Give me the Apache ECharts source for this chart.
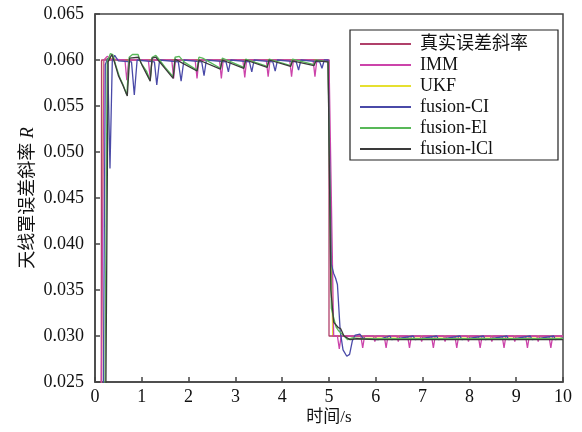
<!DOCTYPE html>
<html>
<head>
<meta charset="utf-8">
<script src="https://cdn.jsdelivr.net/npm/echarts@6/dist/echarts.min.js"></script>
<style>
  html, body { margin: 0; padding: 0; background: #fff; }
  #chart { width: 582px; height: 432px; }
</style>
</head>
<body>
<div id="chart"></div>
<script>
// Axis ticks
const xTicks = [0, 1, 2, 3, 4, 5, 6, 7, 8, 9, 10];
const yTicks = [0.025, 0.030, 0.035, 0.040, 0.045, 0.050, 0.055, 0.060, 0.065];

// Series names
const seriesNames = ['真实误差斜率', 'IMM', 'UKF', 'fusion-CI', 'fusion-El', 'fusion-lCl'];

// [time (s), slope R]
const trueSlope = [[0, 0], [0.13, 0], [0.14, 0.0600], [5.00, 0.0600], [5.00, 0.0300], [10, 0.0300]];

const immSlope = [
  [0, 0], [0.10, 0], [0.19, 0.0600], [0.26, 0.0604], [0.34, 0.0601],
  [0.64, 0.0600], [0.68, 0.0578], [0.72, 0.0600],
  [1.14, 0.0600], [1.18, 0.0580], [1.22, 0.0600],
  [1.64, 0.0600], [1.68, 0.0580], [1.72, 0.0600],
  [2.14, 0.0600], [2.18, 0.0580], [2.22, 0.0600],
  [2.66, 0.0600], [2.70, 0.0580], [2.74, 0.0600],
  [3.16, 0.0600], [3.20, 0.0581], [3.24, 0.0600],
  [3.66, 0.0600], [3.70, 0.0582], [3.74, 0.0600],
  [4.16, 0.0600], [4.20, 0.0582], [4.24, 0.0600],
  [4.66, 0.0600], [4.70, 0.0582], [4.74, 0.0600],
  [5.00, 0.0600], [5.10, 0.0300], [5.18, 0.0300], [5.22, 0.0286], [5.26, 0.0300],
  [5.68, 0.0300], [5.72, 0.0287], [5.76, 0.0300],
  [5.95, 0.0300], [5.98, 0.0294], [6.01, 0.0300],
  [6.18, 0.0300], [6.22, 0.0287], [6.26, 0.0300],
  [6.45, 0.0300], [6.48, 0.0294], [6.51, 0.0300],
  [6.68, 0.0300], [6.72, 0.0287], [6.76, 0.0300],
  [6.95, 0.0300], [6.98, 0.0294], [7.01, 0.0300],
  [7.19, 0.0300], [7.23, 0.0287], [7.27, 0.0300],
  [7.45, 0.0300], [7.48, 0.0294], [7.51, 0.0300],
  [7.69, 0.0300], [7.73, 0.0287], [7.77, 0.0300],
  [7.95, 0.0300], [7.98, 0.0294], [8.01, 0.0300],
  [8.19, 0.0300], [8.23, 0.0287], [8.27, 0.0300],
  [8.45, 0.0300], [8.48, 0.0294], [8.51, 0.0300],
  [8.70, 0.0300], [8.74, 0.0287], [8.78, 0.0300],
  [8.94, 0.0300], [8.97, 0.0294], [9.00, 0.0300],
  [9.20, 0.0300], [9.24, 0.0287], [9.28, 0.0300],
  [9.44, 0.0300], [9.47, 0.0294], [9.50, 0.0300],
  [9.70, 0.0300], [9.74, 0.0287], [9.78, 0.0300],
  [10, 0.0300]
];

const ukfSlope = [
  [0, 0], [0.11, 0], [0.18, 0.0600], [0.30, 0.0602], [0.50, 0.0600],
  [2.50, 0.0600], [4.98, 0.0600], [5.08, 0.0300], [6.00, 0.0299], [10, 0.0299]
];

const ciSlope = [
  [0, 0], [0.15, 0], [0.22, 0.0595], [0.27, 0.0602], [0.32, 0.0482], [0.37, 0.0600],
  [0.42, 0.0605], [0.50, 0.0599],
  [0.78, 0.0598], [0.84, 0.0562], [0.90, 0.0600],
  [1.27, 0.0598], [1.32, 0.0573], [1.38, 0.0600],
  [1.78, 0.0598], [1.84, 0.0577], [1.90, 0.0600],
  [2.28, 0.0598], [2.33, 0.0583], [2.38, 0.0600],
  [2.80, 0.0598], [2.85, 0.0587], [2.90, 0.0600],
  [3.30, 0.0598], [3.35, 0.0587], [3.40, 0.0600],
  [3.80, 0.0598], [3.85, 0.0588], [3.90, 0.0600],
  [4.30, 0.0598], [4.35, 0.0589], [4.40, 0.0600],
  [4.80, 0.0598], [4.85, 0.0591], [4.90, 0.0600],
  [4.98, 0.0600], [5.05, 0.0378], [5.10, 0.0368], [5.14, 0.0363], [5.18, 0.0356],
  [5.24, 0.0305], [5.30, 0.0285], [5.38, 0.0278], [5.44, 0.0280], [5.50, 0.0295],
  [5.56, 0.0301], [5.66, 0.0302], [5.72, 0.0298], [5.80, 0.0297],
  [6.05, 0.0296], [6.30, 0.0300], [6.34, 0.0296],
  [6.80, 0.0300], [6.84, 0.0296],
  [7.30, 0.0300], [7.34, 0.0296],
  [7.80, 0.0300], [7.84, 0.0296],
  [8.30, 0.0300], [8.34, 0.0296],
  [8.80, 0.0300], [8.84, 0.0296],
  [9.30, 0.0300], [9.34, 0.0296],
  [9.80, 0.0300], [9.84, 0.0296], [10, 0.0298]
];

const eiSlope = [
  [0, 0], [0.18, 0], [0.26, 0.0598], [0.33, 0.0607], [0.38, 0.0606], [0.44, 0.0595],
  [0.52, 0.0582], [0.60, 0.0573], [0.68, 0.0562], [0.73, 0.0603], [0.80, 0.0606],
  [0.92, 0.0606], [0.98, 0.0597], [1.10, 0.0588], [1.18, 0.0578], [1.22, 0.0603],
  [1.30, 0.0605], [1.38, 0.0600], [1.50, 0.0592], [1.67, 0.0582], [1.71, 0.0603],
  [1.80, 0.0604], [1.90, 0.0598], [2.18, 0.0589], [2.22, 0.0603], [2.30, 0.0602],
  [2.68, 0.0591], [2.72, 0.0602], [3.18, 0.0592], [3.22, 0.0601], [3.68, 0.0593],
  [3.72, 0.0601], [4.18, 0.0594], [4.22, 0.0601], [4.68, 0.0595], [4.72, 0.0600],
  [4.98, 0.0598], [5.05, 0.0330], [5.15, 0.0310], [5.20, 0.0306], [5.28, 0.0302],
  [5.40, 0.0296], [5.50, 0.0298], [5.70, 0.0297],
  [6.50, 0.0297], [6.52, 0.0298], [6.70, 0.0297],
  [7.50, 0.0297], [7.52, 0.0298], [7.70, 0.0297],
  [8.50, 0.0297], [8.52, 0.0298], [8.70, 0.0297],
  [9.50, 0.0297], [9.52, 0.0298], [9.70, 0.0297], [10, 0.0297]
];

const iclSlope = [
  [0, 0], [0.20, 0], [0.28, 0.0598], [0.36, 0.0606], [0.42, 0.0597], [0.50, 0.0583],
  [0.60, 0.0572], [0.69, 0.0561], [0.74, 0.0602], [0.93, 0.0603], [1.00, 0.0595],
  [1.18, 0.0577], [1.22, 0.0602], [1.30, 0.0603], [1.67, 0.0580], [1.71, 0.0601],
  [2.18, 0.0588], [2.22, 0.0600], [2.68, 0.0590], [2.72, 0.0600], [3.18, 0.0591],
  [3.22, 0.0600], [3.68, 0.0592], [3.72, 0.0600], [4.18, 0.0593], [4.22, 0.0599],
  [4.68, 0.0594], [4.72, 0.0599], [4.98, 0.0598], [5.04, 0.0350], [5.10, 0.0315],
  [5.20, 0.0309], [5.25, 0.0308], [5.32, 0.0300], [5.45, 0.0296], [5.60, 0.0297],
  [6.00, 0.0296], [7.00, 0.0296], [8.00, 0.0296], [9.00, 0.0296], [10, 0.0296]
];

const seriesData = [trueSlope, immSlope, ukfSlope, ciSlope, eiSlope, iclSlope];
const seriesColors = ['#b0406a', '#cc44aa', '#e6e030', '#4a4aa8', '#58b858', '#3a3a3a'];
// drawing order: yellow UKF sits underneath everything
const seriesZ = [3, 4, 2, 5, 6, 7];

const serifFont = '"Liberation Serif", "Times New Roman", "Noto Sans CJK SC", serif';

const chart = echarts.init(document.getElementById('chart'), null, { renderer: 'canvas' });

chart.setOption({
  animation: false,
  backgroundColor: '#ffffff',
  textStyle: { fontFamily: serifFont },
  grid: {
    left: 95, right: 19, top: 14, bottom: 50,
    show: true, borderColor: '#444', borderWidth: 1.5, backgroundColor: 'transparent'
  },
  legend: {
    orient: 'vertical',
    left: 350, top: 30, width: 188,
    padding: [5, 30, 2, 10],
    itemGap: 3,
    itemWidth: 51,
    itemHeight: 2,
    icon: 'rect',
    borderColor: '#222', borderWidth: 1.2,
    backgroundColor: '#fff',
    data: seriesNames,
    textStyle: {
      fontFamily: serifFont, fontSize: 18, color: '#111',
      lineHeight: 18, padding: [0, 0, 0, 4]
    }
  },
  xAxis: {
    type: 'value',
    min: xTicks[0], max: xTicks[xTicks.length - 1], interval: 1,
    name: '时间/s', nameLocation: 'middle', nameGap: 27, nameMoveOverlap: false,
    nameTextStyle: { fontFamily: serifFont, fontSize: 17, color: '#111' },
    axisLine: { lineStyle: { color: '#444', width: 1.5 } },
    axisTick: { inside: true, length: 5, lineStyle: { color: '#444', width: 1.5 } },
    axisLabel: { fontFamily: serifFont, fontSize: 18, color: '#111', margin: 6 },
    splitLine: { show: false }
  },
  yAxis: {
    type: 'value',
    min: yTicks[0], max: yTicks[yTicks.length - 1], interval: 0.005,
    name: '{a|天线罩误差斜率 }{b|R}', nameLocation: 'middle', nameGap: 58,
    nameMoveOverlap: false,
    nameRotate: 90,
    nameTextStyle: {
      rich: {
        a: { fontFamily: serifFont, fontSize: 18, color: '#111' },
        b: { fontFamily: serifFont, fontSize: 18, color: '#111', fontStyle: 'italic' }
      }
    },
    axisLine: { lineStyle: { color: '#444', width: 1.5 } },
    axisTick: { inside: true, length: 5, lineStyle: { color: '#444', width: 1.5 } },
    axisLabel: {
      fontFamily: serifFont, fontSize: 18, color: '#111', margin: 11,
      formatter: v => v.toFixed(3)
    },
    splitLine: { show: false }
  },
  series: seriesNames.map((name, i) => ({
    name: name,
    type: 'line',
    data: seriesData[i],
    symbol: 'none',
    clip: true,
    color: seriesColors[i],
    lineStyle: { color: seriesColors[i], width: 1.3 },
    z: seriesZ[i]
  }))
});
</script>
</body>
</html>
